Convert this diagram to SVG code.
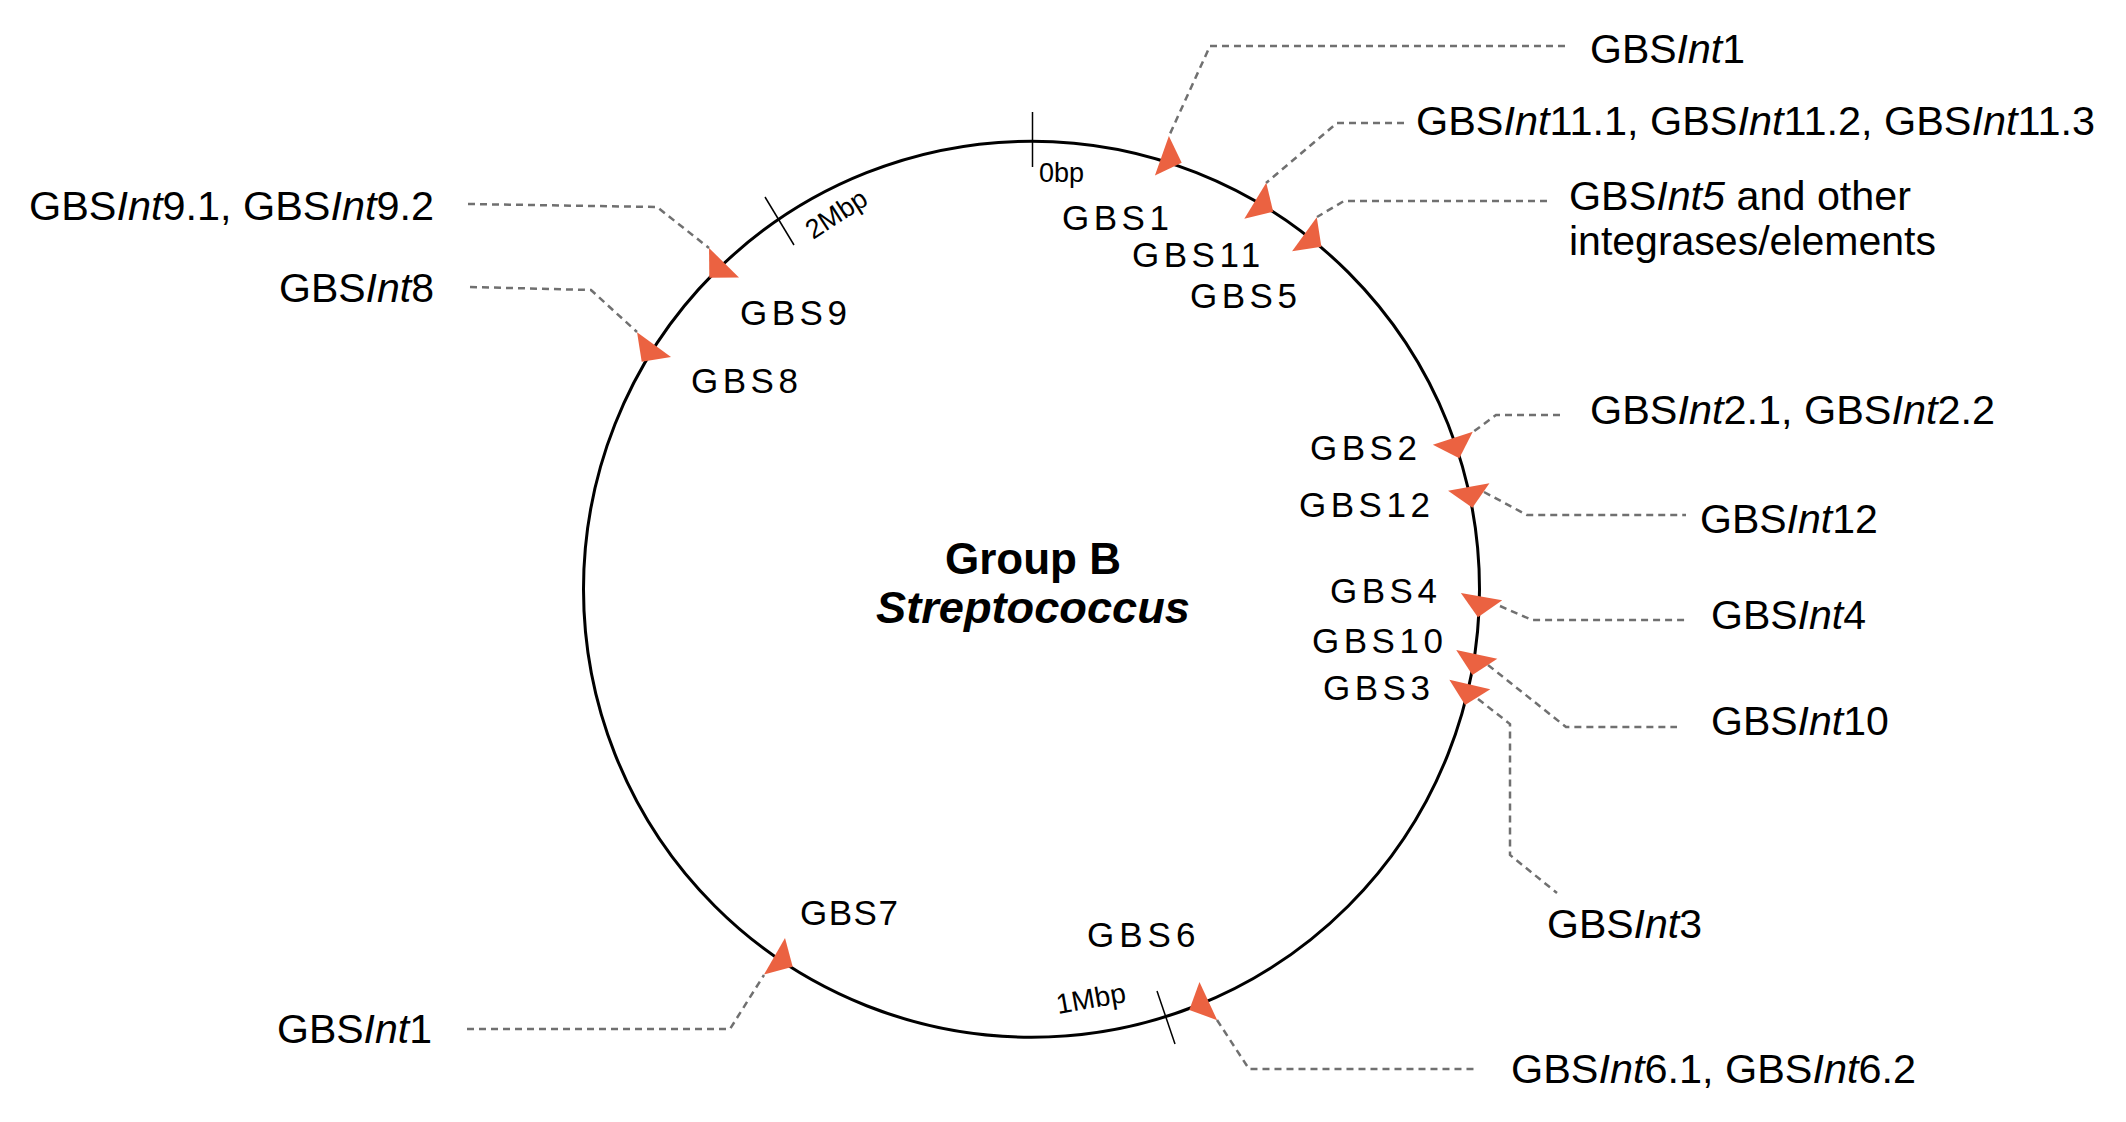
<svg xmlns="http://www.w3.org/2000/svg" width="2126" height="1122" viewBox="0 0 2126 1122">
<style>
.bb{fill:none;stroke:#000;stroke-width:3}
.tick{stroke:#000;stroke-width:1.5}
.ld{fill:none;stroke:#707070;stroke-width:2.5;stroke-dasharray:7 5}
.mk{fill:#EB6241}
text{font-family:"Liberation Sans",Arial,Helvetica,sans-serif;fill:#000}
.lab{font-size:41px}
.gbs{font-size:35px;letter-spacing:4.5px}
.sm{font-size:27px}
.it{font-style:italic}
.title{font-size:44px;font-weight:bold;text-anchor:middle}
</style>
<defs>
<polygon id="mk" points="0,0 -21,-21 -21,21"/>
</defs>
<rect width="2126" height="1122" fill="#fff"/>

<g id="connectors">
<path class="ld" d="M1565,46 H1210 L1169,136"/>
<path class="ld" d="M1404,123 H1337 L1266,183"/>
<path class="ld" d="M1547,201 H1344 L1317,217"/>
<path class="ld" d="M1560,415 H1496 L1473,432"/>
<path class="ld" d="M1484,492 L1527,515 H1686"/>
<path class="ld" d="M1500,606 L1532,620 H1686"/>
<path class="ld" d="M1488,665 L1566,727 H1677"/>
<path class="ld" d="M1478,699 L1510,724 V855 L1557,893"/>
<path class="ld" d="M1217,1020 L1249,1069 H1476"/>
<path class="ld" d="M467,1029 H730 L764,975"/>
<path class="ld" d="M468,204 L657,207 L709,248"/>
<path class="ld" d="M470,287 L591,290 L637,332"/>
</g>

<g id="genome">
<circle class="bb" cx="1031.5" cy="589.2" r="448"/>
<line class="tick" x1="1032.5" y1="112" x2="1032.5" y2="167"/>
<line class="tick" x1="765" y1="197" x2="794" y2="245"/>
<line class="tick" x1="1157" y1="991" x2="1175" y2="1044"/>
<text class="sm" x="1039" y="182">0bp</text>
<text class="sm" transform="translate(813,240) rotate(-33)">2Mbp</text>
<text class="sm" transform="translate(1058,1014) rotate(-10)" style="font-size:28px">1Mbp</text>
</g>

<g id="center-label">
<text class="title" x="1033" y="574">Group B</text>
<text class="title it" x="1033" y="623" textLength="314" lengthAdjust="spacingAndGlyphs">Streptococcus</text>
</g>

<g id="GBS1"><use class="mk" href="#mk" transform="translate(1181.7,162.7) rotate(19.4)"/><text class="gbs" x="1062" y="230">GBS1</text><text class="lab" x="1590" y="63">GBS<tspan class="it">Int</tspan>1</text></g>
<g id="GBS11"><use class="mk" href="#mk" transform="translate(1273.2,211.7) rotate(31.5)"/><text class="gbs" x="1132" y="267">GBS11</text><text class="lab" x="1416" y="135" textLength="679" lengthAdjust="spacingAndGlyphs">GBS<tspan class="it">Int</tspan>11.1, GBS<tspan class="it">Int</tspan>11.2, GBS<tspan class="it">Int</tspan>11.3</text></g>
<g id="GBS5"><use class="mk" href="#mk" transform="translate(1321.4,246.7) rotate(36)"/><text class="gbs" x="1190" y="308">GBS5</text><text class="lab" x="1569" y="210" textLength="342" lengthAdjust="spacingAndGlyphs">GBS<tspan class="it">Int5</tspan> and other</text><text class="lab" x="1569" y="255">integrases/elements</text></g>
<g id="GBS2"><use class="mk" href="#mk" transform="translate(1459.3,458.3) rotate(72)"/><text class="gbs" x="1310" y="460">GBS2</text><text class="lab" x="1590" y="424" textLength="405" lengthAdjust="spacingAndGlyphs">GBS<tspan class="it">Int</tspan>2.1, GBS<tspan class="it">Int</tspan>2.2</text></g>
<g id="GBS12"><use class="mk" href="#mk" transform="translate(1472.4,507.7) rotate(80)"/><text class="gbs" x="1299" y="517">GBS12</text><text class="lab" x="1700" y="533">GBS<tspan class="it">Int</tspan>12</text></g>
<g id="GBS4"><use class="mk" href="#mk" transform="translate(1477.9,617.3) rotate(100)"/><text class="gbs" x="1330" y="603">GBS4</text><text class="lab" x="1711" y="629">GBS<tspan class="it">Int</tspan>4</text></g>
<g id="GBS10"><use class="mk" href="#mk" transform="translate(1472.4,675) rotate(102)"/><text class="gbs" x="1312" y="653">GBS10</text><text class="lab" x="1711" y="735">GBS<tspan class="it">Int</tspan>10</text></g>
<g id="GBS3"><use class="mk" href="#mk" transform="translate(1465.1,705) rotate(103)"/><text class="gbs" x="1323" y="700">GBS3</text><text class="lab" x="1547" y="938">GBS<tspan class="it">Int</tspan>3</text></g>
<g id="GBS6"><use class="mk" href="#mk" transform="translate(1189.3,1010) rotate(155)"/><text class="gbs" x="1087" y="947" style="letter-spacing:5px">GBS6</text><text class="lab" x="1511" y="1083" textLength="405" lengthAdjust="spacingAndGlyphs">GBS<tspan class="it">Int</tspan>6.1, GBS<tspan class="it">Int</tspan>6.2</text></g>
<g id="GBS7"><use class="mk" href="#mk" transform="translate(792.7,966.7) rotate(30)"/><text class="gbs" x="800" y="925" style="letter-spacing:1.5px">GBS7</text><text class="lab" x="432" y="1043" text-anchor="end">GBS<tspan class="it">Int</tspan>1</text></g>
<g id="GBS8"><use class="mk" href="#mk" transform="translate(641.7,361.7) rotate(126)"/><text class="gbs" x="691" y="393">GBS8</text><text class="lab" x="434" y="302" text-anchor="end">GBS<tspan class="it">Int</tspan>8</text></g>
<g id="GBS9"><use class="mk" href="#mk" transform="translate(709.3,277.7) rotate(134.5)"/><text class="gbs" x="740" y="325">GBS9</text><text class="lab" x="29" y="220" textLength="405" lengthAdjust="spacingAndGlyphs">GBS<tspan class="it">Int</tspan>9.1, GBS<tspan class="it">Int</tspan>9.2</text></g>
</svg>
